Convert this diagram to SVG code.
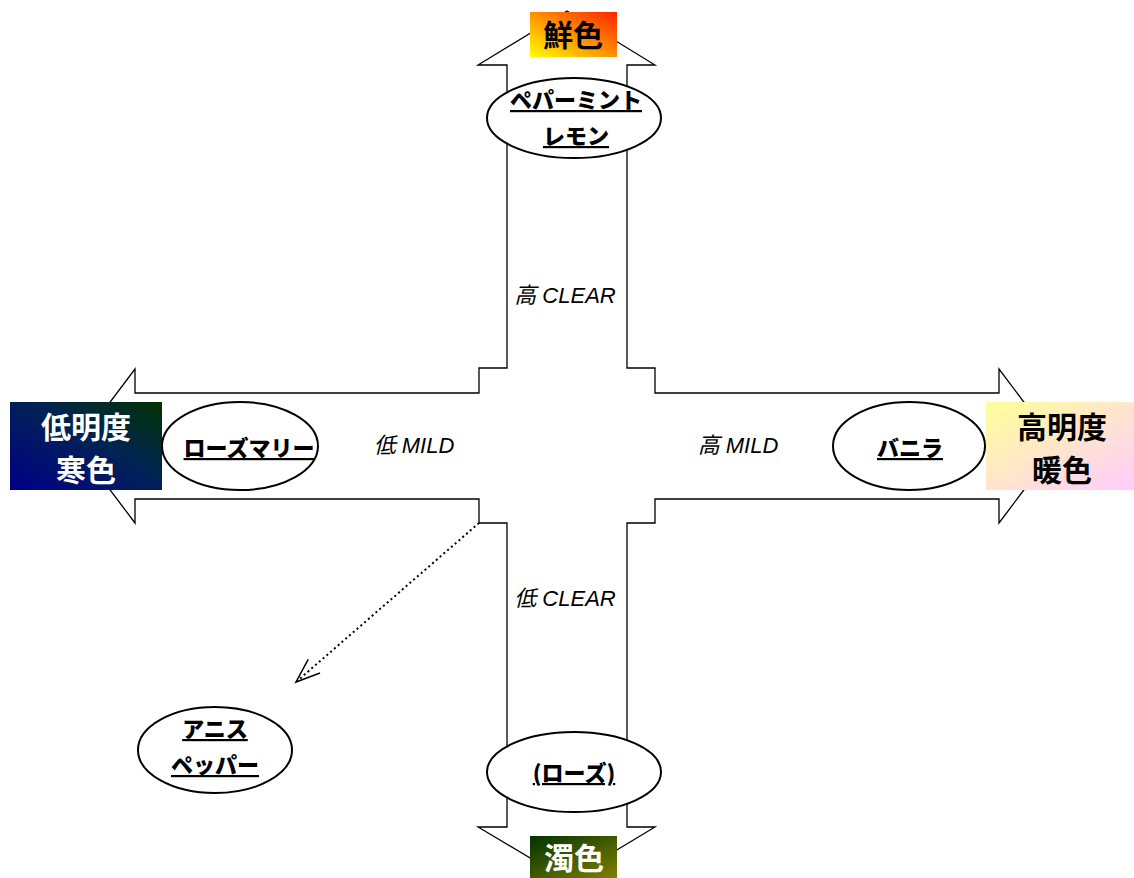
<svg xmlns="http://www.w3.org/2000/svg" width="1134" height="878" viewBox="0 0 1134 878">
<style>
.outline{fill:#fff;stroke:#000;stroke-width:1.3;stroke-linejoin:miter}
.ell{fill:#fff;stroke:#000;stroke-width:2}
.lbl{font-family:"Noto Sans CJK JP","Liberation Sans",sans-serif;font-weight:900;font-size:22px;text-anchor:middle;text-decoration:underline;fill:#000}
.axis{font-family:"Liberation Sans","Noto Sans CJK JP",sans-serif;font-style:italic;font-size:22px;text-anchor:middle;fill:#000}
.big{font-family:"Noto Sans CJK JP","Liberation Sans",sans-serif;font-weight:bold;font-size:30px;text-anchor:middle}
</style>
<defs>
<linearGradient id="gVivid" x1="0" y1="1" x2="1" y2="0"><stop offset="0" stop-color="#ffff00"/><stop offset="1" stop-color="#ff2200"/></linearGradient>
<linearGradient id="gCool" x1="0" y1="1" x2="1" y2="0"><stop offset="0" stop-color="#000088"/><stop offset="0.55" stop-color="#002255"/><stop offset="1" stop-color="#003300"/></linearGradient>
<linearGradient id="gWarm" x1="0" y1="0" x2="1" y2="1"><stop offset="0" stop-color="#ffff99"/><stop offset="1" stop-color="#ffccff"/></linearGradient>
<linearGradient id="gMuddy" x1="0" y1="0" x2="1" y2="1"><stop offset="0" stop-color="#003300"/><stop offset="1" stop-color="#808000"/></linearGradient>
<marker id="openArrow" markerWidth="30" markerHeight="30" refX="0" refY="0" viewBox="-26 -12 30 24" orient="auto" markerUnits="userSpaceOnUse">
<path d="M-24,-9 L0,0 L-24,9" fill="none" stroke="#000" stroke-width="1.5"/>
</marker>
</defs>
<g id="cross">
<polygon class="outline" points="567,11 655,65 627,65 627,368 655,368 655,393 999,393 999,369 1057,446 999,523 999,499 655,499 655,523 627,523 627,827 655,827 567,880 478,827 507,827 507,523 479,523 479,499 135,499 135,523 77,446 135,369 135,393 479,393 479,368 507,368 507,65 478,65"/>
</g>
<g id="connectors">
<line x1="479" y1="523" x2="296" y2="682" stroke="#000" stroke-width="2" stroke-dasharray="2 3" marker-end="url(#openArrow)"/>
</g>
<g id="axis-labels">
<text class="axis" x="565" y="303">高 CLEAR</text>
<text class="axis" x="414" y="453">低 MILD</text>
<text class="axis" x="738" y="453">高 MILD</text>
<text class="axis" x="565" y="606">低 CLEAR</text>
</g>
<g id="node-vivid">
<rect x="530" y="12" width="87" height="45" fill="url(#gVivid)"/>
<text class="big" x="573" y="46" fill="#000">鮮色</text>
</g>
<g id="node-cool">
<rect x="10" y="402" width="152" height="88" fill="url(#gCool)"/>
<text class="big" x="86" y="438" fill="#fff">低明度</text>
<text class="big" x="86" y="481" fill="#fff">寒色</text>
</g>
<g id="node-warm">
<rect x="986" y="402" width="148" height="88" fill="url(#gWarm)"/>
<text class="big" x="1062" y="438" fill="#000">高明度</text>
<text class="big" x="1062" y="481" fill="#000">暖色</text>
</g>
<g id="node-muddy">
<rect x="530" y="836" width="87" height="42" fill="url(#gMuddy)"/>
<text class="big" x="574" y="869" fill="#fff">濁色</text>
</g>
<g id="node-peppermint">
<ellipse class="ell" cx="574" cy="118" rx="87" ry="40"/>
<text class="lbl" x="576" y="108">ペパーミント</text>
<text class="lbl" x="576" y="144">レモン</text>
</g>
<g id="node-rosemary">
<ellipse class="ell" cx="240" cy="446" rx="78" ry="44"/>
<text class="lbl" x="249" y="456">ローズマリー</text>
</g>
<g id="node-vanilla">
<ellipse class="ell" cx="909" cy="446" rx="76" ry="44"/>
<text class="lbl" x="910" y="456">バニラ</text>
</g>
<g id="node-anise">
<ellipse class="ell" cx="215" cy="750" rx="77" ry="43"/>
<text class="lbl" x="215" y="737">アニス</text>
<text class="lbl" x="215" y="773">ペッパー</text>
</g>
<g id="node-rose">
<ellipse class="ell" cx="574" cy="772" rx="87" ry="40"/>
<text class="lbl" x="574" y="781">(ローズ)</text>
</g>
</svg>
